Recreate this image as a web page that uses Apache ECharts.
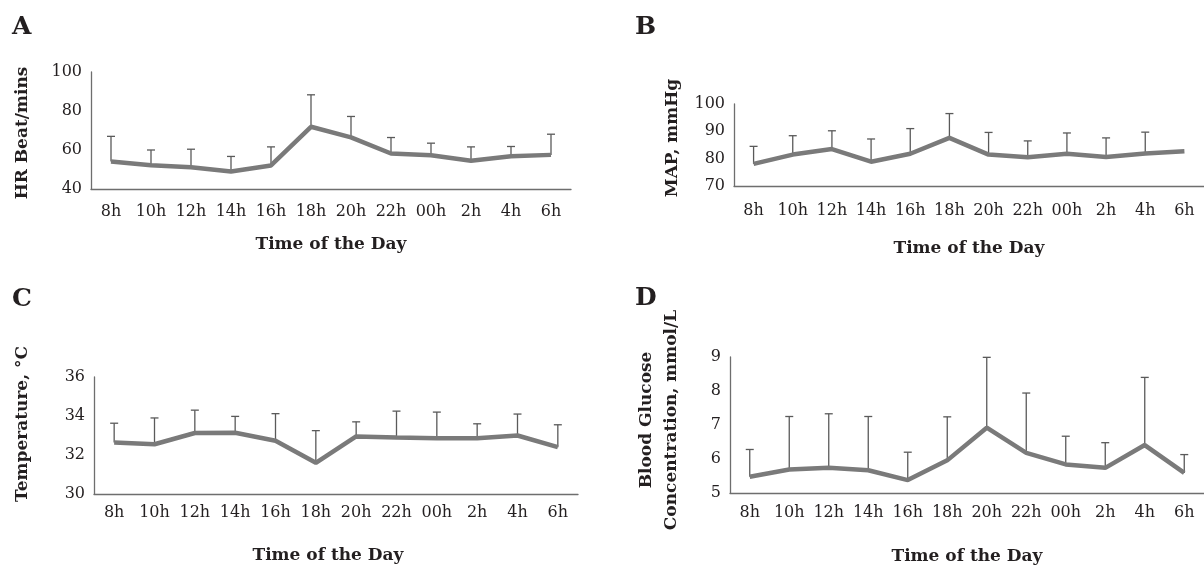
<html>
<head>
    <meta charset="utf-8" />
    <title>Circadian variation</title>
    <style>
        body { margin: 0; background: #fff; }
    </style>
</head>
<body>
    <div id="main" style="width: 1204px;height:568px;"></div>
    <script src="https://cdn.jsdelivr.net/npm/echarts@6/dist/echarts.min.js" type="text/javascript"></script>
    <script type="text/javascript">
        var hours = ['8h', '10h', '12h', '14h', '16h', '18h', '20h', '22h', '00h', '2h', '4h', '6h'];

        // A - heart rate (mean, mean + SD)
        var hrMean = [54.1, 52.2, 51.2, 49.0, 52.1, 71.9, 66.5, 58.2, 57.3, 54.5, 56.8, 57.5];
        var hrUpper = [67.0, 60.0, 60.4, 56.7, 61.6, 88.3, 77.2, 66.4, 63.5, 61.6, 61.8, 68.1];
        // B - mean arterial pressure
        var mapMean = [78.1, 81.5, 83.5, 78.9, 81.8, 87.6, 81.5, 80.5, 81.8, 80.6, 81.9, 82.7];
        var mapUpper = [84.5, 88.4, 90.2, 87.2, 91.0, 96.5, 89.6, 86.5, 89.4, 87.6, 89.7, null];
        // C - temperature
        var tempMean = [32.64, 32.55, 33.13, 33.14, 32.73, 31.6, 32.95, 32.9, 32.86, 32.86, 33.0, 32.4];
        var tempUpper = [33.63, 33.9, 34.3, 33.98, 34.12, 33.25, 33.7, 34.25, 34.2, 33.6, 34.1, 33.55];
        // D - blood glucose
        var gluMean = [5.48, 5.69, 5.74, 5.67, 5.38, 5.96, 6.92, 6.18, 5.84, 5.74, 6.41, 5.59];
        var gluUpper = [6.28, 7.25, 7.33, 7.25, 6.2, 7.24, 8.99, 7.94, 6.67, 6.48, 8.4, 6.13];

        var fontFam = 'DejaVu Serif';
        var textColor = '#231f20';
        var lineColor = '#7a7a7a';
        var barColor = '#5a5a5a';

        var myChart = echarts.init(document.getElementById('main'));

        function errData(mean, upper) {
            var out = [];
            for (var i = 0; i < mean.length; i++) {
                if (upper[i] != null) {
                    out.push([i, mean[i], upper[i]]);
                }
            }
            return out;
        }

        function renderErr(params, api) {
            var lo = api.coord([api.value(0), api.value(1)]);
            var hi = api.coord([api.value(0), api.value(2)]);
            var st = { stroke: barColor, lineWidth: 1.3 };
            return {
                type: 'group',
                children: [
                    { type: 'line', shape: { x1: lo[0], y1: lo[1], x2: hi[0], y2: hi[1] }, style: st },
                    { type: 'line', shape: { x1: hi[0] - 4, y1: hi[1], x2: hi[0] + 4, y2: hi[1] }, style: st }
                ]
            };
        }

        function xAx(idx, margin, gap, shift) {
            return {
                type: 'category',
                gridIndex: idx,
                data: hours,
                axisTick: { show: false },
                axisLine: { lineStyle: { color: '#6e6e6e', width: 1.3 } },
                axisLabel: { color: textColor, fontFamily: fontFam, fontSize: 16, margin: margin, interval: 0 },
                name: 'Time of the Day',
                nameLocation: 'middle',
                nameGap: gap,
                nameTextStyle: {
                    color: textColor, fontFamily: fontFam, fontSize: 17, fontWeight: 'bold',
                    padding: [0, shift, 0, 0]
                }
            };
        }

        function yAx(idx, min, max, step) {
            return {
                type: 'value',
                gridIndex: idx,
                min: min,
                max: max,
                interval: step,
                splitLine: { show: false },
                axisTick: { show: false },
                axisLine: { show: true, lineStyle: { color: '#6e6e6e', width: 1.3 } },
                axisLabel: { color: textColor, fontFamily: fontFam, fontSize: 16, margin: 9 }
            };
        }

        function lineSeries(idx, data) {
            return {
                type: 'line',
                xAxisIndex: idx,
                yAxisIndex: idx,
                data: data,
                symbol: 'none',
                z: 3,
                lineStyle: { color: lineColor, width: 4.5 }
            };
        }

        function errSeries(idx, mean, upper) {
            return {
                type: 'custom',
                xAxisIndex: idx,
                yAxisIndex: idx,
                renderItem: renderErr,
                data: errData(mean, upper),
                z: 2
            };
        }

        function label(txt, x, y) {
            return {
                type: 'text', x: x, y: y,
                style: { text: txt, font: 'bold 25px ' + fontFam, fill: textColor, align: 'left', verticalAlign: 'middle' }
            };
        }

        function yName(txt, x, y) {
            return {
                type: 'text', x: x, y: y, rotation: Math.PI / 2,
                style: { text: txt, font: 'bold 17px ' + fontFam, fill: textColor, align: 'center', verticalAlign: 'middle', lineHeight: 25 }
            };
        }

        var option = {
            animation: false,
            backgroundColor: '#fff',
            grid: [
                { left: 91, top: 72, width: 480, height: 117 },
                { left: 734, top: 104, width: 480, height: 82 },
                { left: 94, top: 377, width: 484, height: 117 },
                { left: 730, top: 357, width: 485, height: 136 }
            ],
            xAxis: [xAx(0, 15, 47, 0), xAx(1, 17, 54, 0), xAx(2, 11, 53, 16), xAx(3, 12, 55, 0)],
            yAxis: [yAx(0, 40, 100, 20), yAx(1, 70, 100, 10), yAx(2, 30, 36, 2), yAx(3, 5, 9, 1)],
            series: [
                errSeries(0, hrMean, hrUpper), lineSeries(0, hrMean),
                errSeries(1, mapMean, mapUpper), lineSeries(1, mapMean),
                errSeries(2, tempMean, tempUpper), lineSeries(2, tempMean),
                errSeries(3, gluMean, gluUpper), lineSeries(3, gluMean)
            ],
            graphic: [
                label('A', 12, 27),
                label('B', 635, 27),
                label('C', 12, 299),
                label('D', 635, 298),
                yName('HR Beat/mins', 23, 133),
                yName('MAP, mmHg', 673, 138),
                yName('Temperature, °C', 23, 424),
                yName('Blood Glucose\nConcentration, mmol/L', 659, 420)
            ]
        };

        myChart.setOption(option);
    </script>
</body>
</html>
